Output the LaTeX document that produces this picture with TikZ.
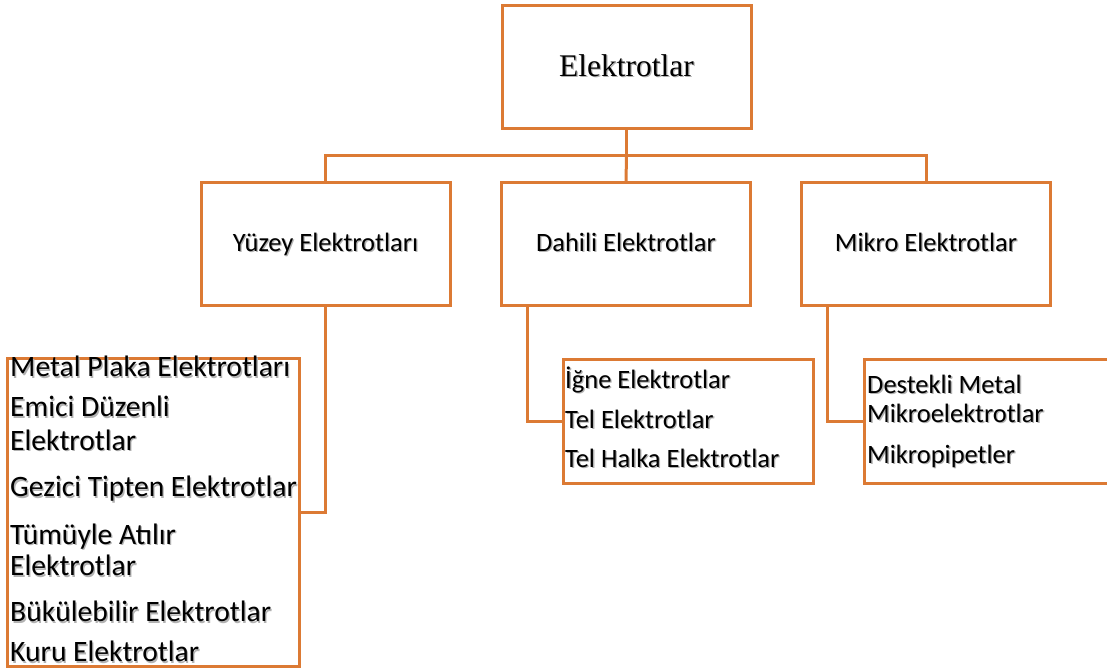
\documentclass[tikz,border=0pt]{standalone}
\usepackage{fontspec}
\setmainfont{Carlito}
\newfontfamily\titlefont{Liberation Serif}
\definecolor{edge}{RGB}{220,122,52}
% text with a soft drop shadow
\newcommand{\shd}[1]{\leavevmode\rlap{\kern1.3pt\raisebox{-1.3pt}{\textcolor{black!30}{#1}}}#1}
\tikzset{
  box/.style={draw=edge, line width=3pt, fill=white, inner sep=0pt},
  link/.style={draw=edge, line width=3pt},
  lbl/.style={anchor=base west, inner sep=0pt, font=\fontsize{26.5}{30}\selectfont},
  big/.style={anchor=base west, inner sep=0pt, font=\fontsize{29.6}{32}\selectfont},
  mid/.style={anchor=base, inner sep=0pt, font=\fontsize{26.5}{30}\selectfont}
}
\begin{document}
\begin{tikzpicture}[x=1pt,y=-1pt]
\useasboundingbox (0,0) rectangle (1107,671);
\clip (0,0) rectangle (1107,671);

% main boxes
\node[box, minimum width=249pt, minimum height=123pt] (root) at (626.5,67.5) {};
\node[box, minimum width=249pt, minimum height=123pt] (yuz) at (325.5,244) {};
\node[box, minimum width=249pt, minimum height=123pt] (dah) at (626,244) {};
\node[box, minimum width=249pt, minimum height=123pt] (mik) at (926,244) {};

% list boxes
\node[box, minimum width=292pt, minimum height=308pt] (ylist) at (153.5,512.5) {};
\node[box, minimum width=250pt, minimum height=124pt] (dlist) at (688,421) {};
\node[box, minimum width=260pt, minimum height=124pt] (mlist) at (994,421) {};

% tree connectors
\coordinate (bus) at (626.5,156);
\draw[link] (root.south) -- (bus);
\draw[link] (yuz.north) |- (bus) -| (mik.north);
\draw[link] (bus) -- (dah.north);
\draw[link] (yuz.south) |- (ylist.east |- 0,512);
\draw[link] (dah.south -| 527,0) |- (dlist.west);
\draw[link] (mik.south -| 827,0) |- (mlist.west);

% labels of the main boxes
\node[anchor=base, inner sep=0pt, font=\titlefont\fontsize{31.5}{34}\selectfont] (troot) at (626.5,76.5) {\shd{Elektrotlar}};
\node[mid] (tyuz) at (325.5,251) {\shd{Yüzey Elektrotları}};
\node[mid] (tdah) at (626,251) {\shd{Dahili Elektrotlar}};
\node[mid] (tmik) at (926,251) {\shd{Mikro Elektrotlar}};

% surface electrodes
\node[big] (y1) at (10,376.7) {\shd{Metal Plaka Elektrotları}};
\node[big] (y2) at (10,416.7) {\shd{Emici Düzenli}};
\node[big] (y3) at (10,450) {\shd{Elektrotlar}};
\node[big] (y4) at (10,496.7) {\shd{Gezici Tipten Elektrotlar}};
\node[big] (y5) at (10,544.3) {\shd{Tümüyle Atılır}};
\node[big] (y6) at (10,575.7) {\shd{Elektrotlar}};
\node[big] (y7) at (10,621.7) {\shd{Bükülebilir Elektrotlar}};
\node[big] (y8) at (10,661.7) {\shd{Kuru Elektrotlar}};

% internal electrodes
\node[lbl] (d1) at (565,388) {\shd{İğne Elektrotlar}};
\node[lbl] (d2) at (565,428) {\shd{Tel Elektrotlar}};
\node[lbl] (d3) at (565,467) {\shd{Tel Halka Elektrotlar}};

% micro electrodes
\node[lbl] (m1) at (867,393) {\shd{Destekli Metal}};
\node[lbl] (m2) at (867,422) {\shd{Mikroelektrotlar}};
\node[lbl] (m3) at (867,463) {\shd{Mikropipetler}};
\end{tikzpicture}
\end{document}
